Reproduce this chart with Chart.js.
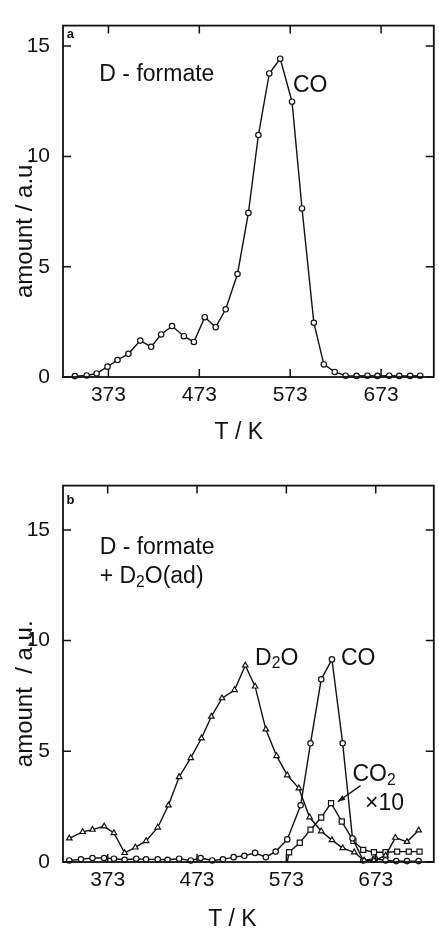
<!DOCTYPE html>
<html><head><meta charset="utf-8">
<script src="https://cdn.jsdelivr.net/npm/chart.js@4/dist/chart.umd.min.js"></script>
<style>
html,body{margin:0;padding:0;background:#fff;overflow:hidden;}
#wa{position:absolute;left:0;top:0;width:439px;height:460px;}
#wb{position:absolute;left:0;top:460px;width:439px;height:471px;}
</style></head><body>
<div id="wa"><canvas id="ca"></canvas></div>
<div id="wb"><canvas id="cb"></canvas></div>
<script>
// ---- data ----
const xTickValues = [373, 473, 573, 673];
const yTickValues = [0, 5, 10, 15];

// panel a: CO desorption from D-formate
const aCO_T = [336,349,360,372,383,395,408,420,431,443,456,467,479,491,502,515,527,538,550,562,575,586,599,610,622,634,646,658,669,682,693,705,716];
const aCO_Y = [0.04,0.07,0.16,0.47,0.77,1.05,1.65,1.37,1.93,2.31,1.85,1.59,2.71,2.26,3.07,4.67,7.44,10.97,13.76,14.43,12.48,7.64,2.46,0.57,0.23,0.06,0.05,0.06,0.05,0.06,0.05,0.05,0.06];

// panel b: D-formate + D2O(ad)
const bD2O_T = [330,345,356,369,380,392,404,416,429,441,453,466,478,489,501,515,527,538,550,562,574,587,599,612,624,636,649,660,671,684,695,708,721];
const bD2O_Y = [1.07,1.36,1.46,1.61,1.31,0.41,0.66,0.95,1.56,2.56,3.84,4.70,5.59,6.57,7.40,7.77,8.88,7.93,5.99,4.79,3.92,3.33,2.02,1.39,0.99,0.63,0.44,0.07,0.07,0.29,1.10,0.91,1.43];
const bCO_T = [330,343,356,369,380,392,405,416,429,440,453,466,477,490,502,514,526,538,550,561,574,589,600,612,624,636,647,659,672,684,696,708,721];
const bCO_Y = [0.07,0.12,0.18,0.18,0.15,0.10,0.15,0.12,0.12,0.10,0.15,0.07,0.18,0.07,0.12,0.22,0.28,0.41,0.22,0.47,1.02,2.56,5.36,8.25,9.15,5.36,1.07,0.07,0.15,0.07,0.04,0.04,0.04];
const bCO2x10_T = [574,576,588,600,612,623,635,648,659,671,684,697,710,722];
const bCO2x10_Y = [0,0.44,0.87,1.46,2.01,2.66,1.83,0.95,0.55,0.44,0.44,0.47,0.47,0.47];

// ---- rendering ----
const FONT = '"Liberation Sans", Arial, Helvetica, sans-serif';
const INK = '#111';
const NB = '\u00A0';

const framePlugin = {
  id: 'frame',
  afterDraw(chart) {
    const {ctx, chartArea: {left, right, top, bottom}} = chart;
    const xs = chart.scales.x, ys = chart.scales.y;
    ctx.save();
    ctx.strokeStyle = INK;
    ctx.lineWidth = 1.8;
    ctx.strokeRect(left, top, right - left, bottom - top);
    ctx.lineWidth = 1.5;
    ctx.beginPath();
    xs.ticks.forEach(t => {
      const px = xs.getPixelForValue(t.value);
      ctx.moveTo(px, bottom); ctx.lineTo(px, bottom - 8);
      ctx.moveTo(px, top); ctx.lineTo(px, top + 8);
    });
    ys.ticks.forEach(t => {
      const py = ys.getPixelForValue(t.value);
      ctx.moveTo(left, py); ctx.lineTo(left + 8, py);
      ctx.moveTo(right, py); ctx.lineTo(right - 8, py);
    });
    ctx.stroke();
    ctx.restore();
  }
};

const textPlugin = {
  id: 'texts',
  afterDraw(chart, args, opts) {
    const ctx = chart.ctx, xs = chart.scales.x, ys = chart.scales.y;
    (opts.items || []).forEach(it => {
      let x = xs.getPixelForValue(it.x);
      const y = ys.getPixelForValue(it.y);
      ctx.save();
      ctx.fillStyle = INK;
      ctx.textBaseline = 'middle';
      ctx.textAlign = 'left';
      it.parts.forEach(p => {
        const size = p.sub ? it.size * 0.68 : it.size;
        ctx.font = (it.bold ? 'bold ' : '') + size + 'px ' + FONT;
        ctx.fillText(p.t, x, y + (p.sub ? it.size * 0.24 : 0));
        x += ctx.measureText(p.t).width;
      });
      ctx.restore();
    });
    (opts.arrows || []).forEach(a => {
      const x1 = xs.getPixelForValue(a.from[0]), y1 = ys.getPixelForValue(a.from[1]);
      const x2 = xs.getPixelForValue(a.to[0]), y2 = ys.getPixelForValue(a.to[1]);
      const ang = Math.atan2(y2 - y1, x2 - x1);
      ctx.save();
      ctx.strokeStyle = INK; ctx.fillStyle = INK; ctx.lineWidth = 1.3;
      ctx.beginPath(); ctx.moveTo(x1, y1); ctx.lineTo(x2, y2); ctx.stroke();
      ctx.beginPath();
      ctx.moveTo(x2, y2);
      ctx.lineTo(x2 - 8 * Math.cos(ang - 0.35), y2 - 8 * Math.sin(ang - 0.35));
      ctx.lineTo(x2 - 8 * Math.cos(ang + 0.35), y2 - 8 * Math.sin(ang + 0.35));
      ctx.closePath(); ctx.fill();
      ctx.restore();
    });
  }
};

function series(T, Y, style, radius) {
  return {
    data: T.map((t, i) => ({x: t, y: Y[i]})),
    showLine: true,
    borderColor: INK,
    borderWidth: 1.4,
    tension: 0,
    pointStyle: style,
    pointRadius: radius,
    pointBackgroundColor: '#fff',
    pointBorderColor: INK,
    pointBorderWidth: 1.2,
    clip: false
  };
}

function makeChart(id, datasets, cfg) {
  return new Chart(document.getElementById(id), {
    type: 'scatter',
    data: {datasets},
    options: {
      responsive: true,
      maintainAspectRatio: false,
      animation: false,
      events: [],
      layout: {padding: {top: cfg.padTop, right: 2, left: 0, bottom: 0}},
      plugins: {
        legend: {display: false},
        tooltip: {enabled: false},
        texts: {items: cfg.items, arrows: cfg.arrows}
      },
      scales: {
        x: {
          type: 'linear', min: cfg.xMin, max: cfg.xMax,
          afterBuildTicks: s => { s.ticks = xTickValues.map(v => ({value: v})); },
          afterFit: s => { s.height = cfg.xAxisH; },
          grid: {display: false, drawTicks: false},
          border: {display: false},
          ticks: {color: INK, font: {family: FONT, size: 21}, padding: 6, maxRotation: 0},
          title: {display: true, text: cfg.xTitle, color: INK,
                  font: {family: FONT, size: 23, lineHeight: 1}, padding: {top: 0, bottom: cfg.titlePadB}}
        },
        y: {
          min: 0, max: cfg.yMax,
          afterBuildTicks: s => { s.ticks = yTickValues.map(v => ({value: v})); },
          afterFit: s => { s.width = 63; },
          grid: {display: false, drawTicks: false},
          border: {display: false},
          ticks: {color: INK, font: {family: FONT, size: 21}, padding: 13},
          title: {display: true, text: cfg.yTitle, color: INK,
                  font: {family: FONT, size: 24, lineHeight: 1}, padding: {top: 13, bottom: 0}}
        }
      }
    },
    plugins: [framePlugin, textPlugin]
  });
}

makeChart('ca', [series(aCO_T, aCO_Y, 'circle', 2.7)], {
  padTop: 12, xMin: 323, xMax: 731, yMax: 15.93, xAxisH: 83, titlePadB: 16,
  xTitle: 'T / K' + NB.repeat(3),
  yTitle: 'amount / a.u.' + NB.repeat(8),
  items: [
    {x: 327, y: 15.55, size: 13, bold: true, parts: [{t: 'a'}]},
    {x: 363, y: 13.7, size: 23, parts: [{t: 'D - formate'}]},
    {x: 576, y: 13.2, size: 23, parts: [{t: 'CO'}]}
  ],
  arrows: []
});

const co2Radii = bCO2x10_T.map((t, i) => i === 0 ? 0 : 3.6);
makeChart('cb', [
  series(bD2O_T, bD2O_Y, 'triangle', 3.2),
  series(bCO_T, bCO_Y, 'circle', 2.7),
  series(bCO2x10_T, bCO2x10_Y, 'rect', co2Radii)
], {
  padTop: 13, xMin: 323, xMax: 738, yMax: 17, xAxisH: 69, titlePadB: 0,
  xTitle: 'T / K' + NB.repeat(5),
  yTitle: 'amount  / a.u.' + NB.repeat(6),
  items: [
    {x: 327, y: 16.35, size: 13, bold: true, parts: [{t: 'b'}]},
    {x: 364, y: 14.18, size: 23, parts: [{t: 'D - formate'}]},
    {x: 364, y: 12.87, size: 23, parts: [{t: '+ D'}, {t: '2', sub: true}, {t: 'O(ad)'}]},
    {x: 538, y: 9.19, size: 23, parts: [{t: 'D'}, {t: '2', sub: true}, {t: 'O'}]},
    {x: 634, y: 9.19, size: 23, parts: [{t: 'CO'}]},
    {x: 647, y: 3.93, size: 23, parts: [{t: 'CO'}, {t: '2', sub: true}]},
    {x: 661, y: 2.62, size: 23, parts: [{t: '×10'}]}
  ],
  arrows: [{from: [656, 3.45], to: [630.5, 2.72]}]
});
</script>
</body></html>
